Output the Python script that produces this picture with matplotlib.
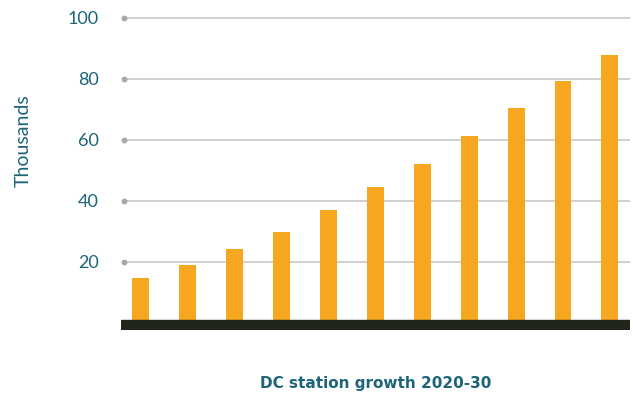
import numpy as np
import matplotlib
matplotlib.use("Agg")
import matplotlib.pyplot as plt

# yearly values, 2020 .. 2030 (thousands of DC stations)
years = list(range(2020, 2031))
stations = [14.7, 19.0, 24.2, 29.7, 36.9, 44.4, 52.0, 61.1, 70.3, 79.4, 87.6]
yticks = [20, 40, 60, 80, 100]

teal = '#1d6478'
orange = '#f7a620'

fig = plt.figure(figsize=(6.33, 3.94), dpi=100)
ax = fig.add_axes([0.191, 0.1624, 0.804, 0.8005])

x = np.arange(len(years))

# gridlines with a small dot on the left end
for t in yticks:
    ax.plot([-0.36, 10.43], [t, t], color='#cdcdcd', lw=1.3, zorder=1,
            solid_capstyle='butt')
    ax.plot([-0.36], [t], marker='o', ms=3.2, color='#a8a8a8', zorder=2)

ax.bar(x, stations, width=0.36, color=orange, zorder=3)

# dark base strip
ax.axhspan(-2.4, 1.0, color='#1f251b', zorder=4)

ax.set_xlim(-0.426, 10.426)
ax.set_ylim(-2.4, 101)
ax.set_xticks([])
ax.set_yticks(yticks)
ax.tick_params(axis='y', length=0, pad=16, labelsize=13, labelcolor=teal)
for lab in ax.get_yticklabels():
    lab.set_family('Lato')
for s in ax.spines.values():
    s.set_visible(False)

ax.set_ylabel('Thousands', fontsize=14, color=teal, family='Lato')
ax.yaxis.set_label_coords(-0.175, 0.599)

fig.text(0.593, 0.008, 'DC station growth 2020-30', ha='center', va='bottom',
         fontsize=11, fontweight='bold', color=teal, family='DejaVu Sans')

plt.savefig('out.png', dpi=100)
